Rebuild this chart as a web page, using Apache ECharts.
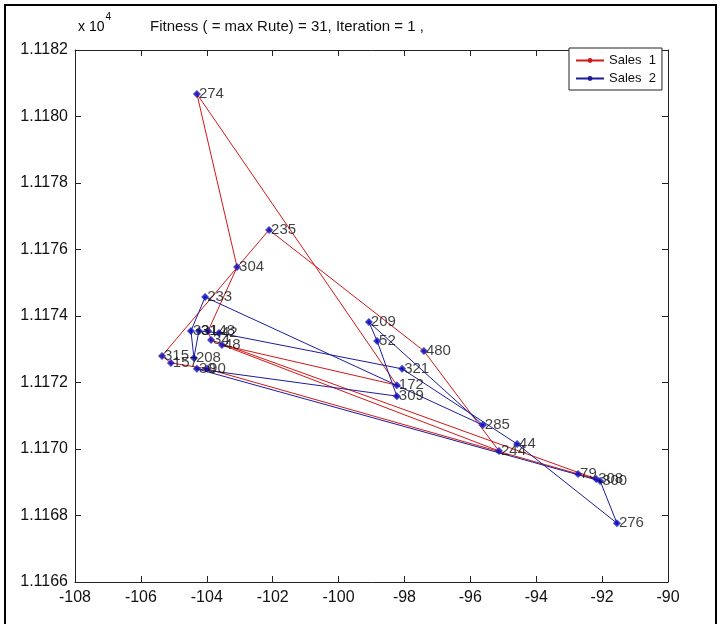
<!DOCTYPE html>
<html>
<head>
<meta charset="utf-8">
<script src="https://cdn.jsdelivr.net/npm/echarts@6/dist/echarts.min.js"></script>
<style>
html,body{margin:0;padding:0;background:#fff;}
#chart{width:723px;height:624px;}
</style>
</head>
<body>
<div id="chart"></div>
<script>
// City labels and coordinates (y axis displayed as x 10^4)
const cityLabels = ['274','235','304','233','209','52','480','321','172','309','285','244','44','79','308','300','276','315','157','208','30','90','33','31','148','42','34','48'];
const cityX = [-104.30,-102.11,-103.08,-104.05,-99.08,-98.83,-97.41,-98.07,-98.23,-98.23,-95.62,-95.13,-94.58,-92.73,-92.18,-92.06,-91.55,-105.36,-105.09,-104.39,-104.30,-103.99,-104.48,-104.24,-103.96,-103.63,-103.87,-103.54];
const cityY = [11180.68,11176.59,11175.47,11174.57,11173.82,11173.25,11172.95,11172.41,11171.92,11171.59,11170.72,11169.94,11170.15,11169.25,11169.10,11169.04,11167.77,11172.80,11172.59,11172.74,11172.41,11172.41,11173.55,11173.55,11173.55,11173.49,11173.28,11173.13];

// Routes (sequence of city labels)
const route1 = ['148','304','274','172','48','244','480','235','315','157','90','79','308','34','148'];
const route2 = ['33','233','285','209','52','309','30','300','276','44','321','42','31','208','33'];

const seriesNames = ['Sales  1','Sales  2'];
const xTicks = {min:-108, max:-90, interval:2};
const yTicks = {min:11166, max:11182, interval:2};
const titleText = 'Fitness ( = max Rute) = 31, Iteration = 1 ,';

const FONT = "'Liberation Sans', Arial, sans-serif";

function routeData(route){
  return route.map(l => { const i = cityLabels.indexOf(l); return [cityX[i], cityY[i]]; });
}
const cityData = cityLabels.map((l,i)=>({value:[cityX[i],cityY[i]], name:l}));

const chart = echarts.init(document.getElementById('chart'), null, {renderer:'canvas'});
const axisLineStyle = {color:'#222', width:1};
chart.setOption({
  animation:false,
  backgroundColor:'#fff',
  textStyle:{fontFamily:FONT},
  title:{
    text:titleText, left:145, top:14,
    textStyle:{fontFamily:FONT, fontSize:15, fontWeight:'normal', color:'#111'}
  },
  legend:{
    data:seriesNames, orient:'vertical', left:569, top:48,
    padding:[6,6,5,6], itemGap:5, itemWidth:28, itemHeight:6,
    borderColor:'#222', borderWidth:1, backgroundColor:'#fff',
    textStyle:{fontFamily:FONT, fontSize:13, color:'#111'}
  },
  grid:{left:75, top:50, width:593, height:532, containLabel:false},
  xAxis:[
    {type:'value', min:xTicks.min, max:xTicks.max, interval:xTicks.interval, position:'bottom',
     axisLine:{show:true, lineStyle:axisLineStyle}, splitLine:{show:false},
     axisTick:{show:true, inside:true, length:6, lineStyle:axisLineStyle},
     axisLabel:{show:true, margin:8, fontFamily:FONT, fontSize:16, color:'#111'}},
    {type:'value', min:xTicks.min, max:xTicks.max, interval:xTicks.interval, position:'top',
     axisLine:{show:true, lineStyle:axisLineStyle}, splitLine:{show:false},
     axisTick:{show:true, inside:true, length:6, lineStyle:axisLineStyle},
     axisLabel:{show:false}}
  ],
  yAxis:[
    {type:'value', min:yTicks.min, max:yTicks.max, interval:yTicks.interval, position:'left',
     axisLine:{show:true, lineStyle:axisLineStyle}, splitLine:{show:false},
     axisTick:{show:true, inside:true, length:6, lineStyle:axisLineStyle},
     axisLabel:{show:true, margin:7, fontFamily:FONT, fontSize:16, color:'#111',
       formatter:v=>(v/10000).toFixed(4)}},
    {type:'value', min:yTicks.min, max:yTicks.max, interval:yTicks.interval, position:'right',
     axisLine:{show:true, lineStyle:axisLineStyle}, splitLine:{show:false},
     axisTick:{show:true, inside:true, length:6, lineStyle:axisLineStyle},
     axisLabel:{show:false}}
  ],
  graphic:[
    {type:'rect', shape:{x:5,y:5,width:711,height:640}, style:{fill:'none', stroke:'#000', lineWidth:2}, silent:true},
    {type:'text', left:78, top:12, style:{
      text:'{a|x 10}{b|4}', rich:{
        a:{fontFamily:FONT, fontSize:14, color:'#111', padding:[8,0,0,0]},
        b:{fontFamily:FONT, fontSize:10, color:'#111', verticalAlign:'top', padding:[0,0,8,1]}
      }}}
  ],
  series:[
    {name:seriesNames[0], type:'line', data:routeData(route1), xAxisIndex:0, yAxisIndex:0,
     lineStyle:{color:'#d01818', width:1}, itemStyle:{color:'#d01818'},
     symbol:'circle', symbolSize:3, showSymbol:true, showAllSymbol:true, z:2},
    {name:seriesNames[1], type:'line', data:routeData(route2), xAxisIndex:0, yAxisIndex:0,
     lineStyle:{color:'#1c1c9c', width:1}, itemStyle:{color:'#1c1c9c'},
     symbol:'circle', symbolSize:3, showSymbol:true, showAllSymbol:true, z:3},
    {name:'cities', type:'scatter', data:cityData, xAxisIndex:0, yAxisIndex:0,
     symbol:'diamond', symbolSize:8, itemStyle:{color:'#1010c0'}, z:4,
     label:{show:true, position:'right', distance:-2, formatter:p=>p.name,
       fontFamily:FONT, fontSize:15, color:'#111'}}
  ]
});
</script>
</body>
</html>
